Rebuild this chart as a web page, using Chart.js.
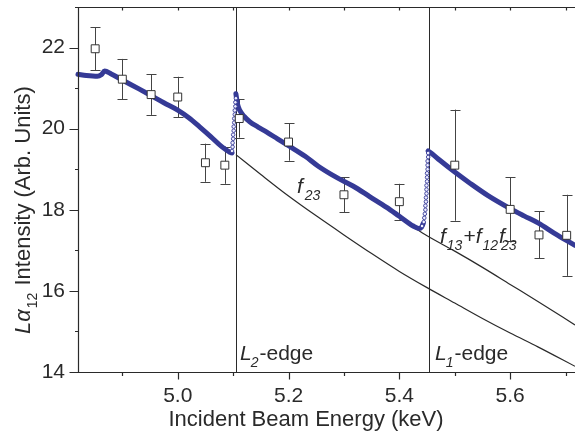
<!DOCTYPE html>
<html lang="en">
<head>
<meta charset="UTF-8">
<title>L-alpha intensity vs incident beam energy</title>
<script src="https://cdn.jsdelivr.net/npm/chart.js"></script>
<style>
  body { margin: 0; background: #fff; }
  #wrap { width: 575px; height: 433px; }
</style>
</head>
<body>
<div id="wrap"><canvas id="edgeChart" width="575" height="433"></canvas></div>
<script>
// measured points with error bars
const measX   = [4.851, 4.900, 4.952, 5.000, 5.050, 5.085, 5.111, 5.200, 5.300, 5.400, 5.500, 5.600, 5.652, 5.702];
const measY   = [21.97, 21.22, 20.84, 20.78, 19.16, 19.10, 20.25, 19.67, 18.37, 18.20, 19.10, 18.01, 17.38, 17.37];
const measErr = [0.53, 0.50, 0.50, 0.50, 0.47, 0.46, 0.47, 0.46, 0.43, 0.44, 1.37, 0.79, 0.58, 1.00];

// fitted curve (blue), split at the two edges
const fitAX = [4.820, 4.835, 4.855, 4.862, 4.868, 4.880, 4.900, 4.930, 4.950, 4.975, 5.000, 5.020, 5.040, 5.060, 5.080, 5.094, 5.098];
const fitAY = [21.34, 21.31, 21.29, 21.33, 21.42, 21.35, 21.20, 20.98, 20.83, 20.64, 20.46, 20.27, 20.04, 19.80, 19.55, 19.42, 19.40];
const fitBX = [5.105, 5.108, 5.112, 5.120, 5.130, 5.145, 5.160, 5.180, 5.200, 5.230, 5.253, 5.285, 5.317, 5.347, 5.377, 5.400, 5.425, 5.435, 5.440, 5.443];
const fitBY = [20.86, 20.60, 20.45, 20.30, 20.17, 20.04, 19.92, 19.75, 19.58, 19.32, 19.08, 18.81, 18.58, 18.32, 18.06, 17.84, 17.60, 17.54, 17.57, 17.66];
const fitCX = [5.452, 5.460, 5.473, 5.500, 5.528, 5.560, 5.600, 5.625, 5.651, 5.680, 5.717];
const fitCY = [19.45, 19.37, 19.22, 18.93, 18.65, 18.35, 18.03, 17.85, 17.67, 17.42, 17.12];

// open circles on the steep rise at each edge
const jumpL2X = [5.098, 5.099, 5.099, 5.100, 5.100, 5.101, 5.101, 5.102, 5.102, 5.103, 5.103, 5.104, 5.104, 5.105];
const jumpL2Y = [19.45, 19.55, 19.65, 19.75, 19.85, 19.95, 20.05, 20.15, 20.25, 20.35, 20.45, 20.55, 20.65, 20.75];
const jumpL1X = [5.441, 5.444, 5.445, 5.446, 5.447, 5.447, 5.448, 5.448, 5.449, 5.449, 5.449, 5.450, 5.450, 5.450, 5.451, 5.451, 5.451, 5.452, 5.452];
const jumpL1Y = [17.60, 17.70, 17.80, 17.90, 18.00, 18.10, 18.20, 18.30, 18.40, 18.50, 18.60, 18.70, 18.80, 18.90, 19.00, 19.10, 19.20, 19.30, 19.40];

// thin black curves
const f23X = [5.105, 5.150, 5.200, 5.250, 5.300, 5.350, 5.400, 5.450, 5.500, 5.550, 5.600, 5.650, 5.717];
const f23Y = [19.36, 18.87, 18.34, 17.85, 17.38, 16.92, 16.48, 16.08, 15.70, 15.32, 14.96, 14.62, 14.14];
const f13X = [5.420, 5.450, 5.500, 5.550, 5.600, 5.650, 5.717];
const f13Y = [17.62, 17.36, 16.98, 16.58, 16.16, 15.74, 15.16];

const edgeX = [5.105, 5.454];

// axes
const xMin = 4.82, xMax = 5.717, yMin = 14, yMax = 23;
const xTickVals = [5.0, 5.2, 5.4, 5.6];
const xTickLabels = ['5.0', '5.2', '5.4', '5.6'];
const xMinorVals = [4.9, 5.1, 5.3, 5.5, 5.7];
const yTickVals = [14, 16, 18, 20, 22];
const yTickLabels = ['14', '16', '18', '20', '22'];
const yMinorVals = [15, 17, 19, 21, 23];

const BLUE = '#353a96';
const INK = '#2a2a2a';
const FONT = '"Liberation Sans", Arial, sans-serif';

const pts = (xs, ys) => xs.map((v, i) => ({ x: v, y: ys[i] }));

function richText(ctx, parts, x, y, big) {
  parts.forEach(p => {
    const size = p.sub ? 14 : (big || 21);
    ctx.font = (p.it ? 'italic ' : '') + size + 'px ' + FONT;
    x += (p.dx || 0);
    ctx.fillText(p.t, x, y + (p.sub ? 7 : 0));
    x += ctx.measureText(p.t).width;
  });
}

// drop the half-label padding Chart.js reserves at the axis ends
function noPad(s) {
  s.paddingTop = 0; s.paddingBottom = 0; s.paddingLeft = 0; s.paddingRight = 0;
}

const overlay = {
  id: 'overlay',
  beforeDatasetsDraw(chart) {
    const { ctx, chartArea: a, scales: { x, y } } = chart;
    ctx.save();
    ctx.strokeStyle = INK;
    ctx.lineWidth = 1;
    // absorption edges
    edgeX.forEach(e => {
      const px = Math.round(x.getPixelForValue(e)) + 0.5;
      ctx.beginPath(); ctx.moveTo(px, a.top); ctx.lineTo(px, a.bottom); ctx.stroke();
    });
    // error bars
    ctx.strokeStyle = '#444';
    measX.forEach((v, i) => {
      const px = Math.round(x.getPixelForValue(v)) + 0.5;
      const top = y.getPixelForValue(measY[i] + measErr[i]);
      const bot = y.getPixelForValue(measY[i] - measErr[i]);
      ctx.beginPath();
      ctx.moveTo(px, top); ctx.lineTo(px, bot);
      ctx.moveTo(px - 5, Math.round(top) + 0.5); ctx.lineTo(px + 5, Math.round(top) + 0.5);
      ctx.moveTo(px - 5, Math.round(bot) + 0.5); ctx.lineTo(px + 5, Math.round(bot) + 0.5);
      ctx.stroke();
    });
    ctx.restore();
  },
  afterDraw(chart) {
    const { ctx, chartArea: a, scales: { x, y } } = chart;
    ctx.save();
    ctx.strokeStyle = INK;
    ctx.lineWidth = 1.2;
    const L = Math.round(a.left) + 0.5, B = Math.round(a.bottom) + 0.5, T = Math.round(a.top) + 0.5;
    ctx.beginPath();
    ctx.moveTo(a.right, T); ctx.lineTo(L, T); ctx.lineTo(L, B); ctx.lineTo(a.right, B);
    // bottom ticks (outward)
    xTickVals.forEach(v => { const p = Math.round(x.getPixelForValue(v)) + 0.5; ctx.moveTo(p, B); ctx.lineTo(p, B + 7); });
    xMinorVals.forEach(v => { const p = Math.round(x.getPixelForValue(v)) + 0.5; ctx.moveTo(p, B); ctx.lineTo(p, B + 3.5); });
    // top ticks (inward)
    xTickVals.concat(xMinorVals).forEach(v => { const p = Math.round(x.getPixelForValue(v)) + 0.5; ctx.moveTo(p, T); ctx.lineTo(p, T + 3); });
    // left ticks (outward)
    yTickVals.forEach(v => { const p = Math.round(y.getPixelForValue(v)) + 0.5; ctx.moveTo(L, p); ctx.lineTo(L - 9, p); });
    yMinorVals.forEach(v => { const p = Math.round(y.getPixelForValue(v)) + 0.5; ctx.moveTo(L, p); ctx.lineTo(L - 3.5, p); });
    ctx.stroke();

    // labels
    ctx.fillStyle = INK;
    ctx.textBaseline = 'alphabetic';
    ctx.textAlign = 'left';
    richText(ctx, [{ t: 'f', it: true }, { t: '23', it: true, sub: true, dx: 2 }], 297, 193);
    richText(ctx, [
      { t: 'f', it: true }, { t: '13', it: true, sub: true, dx: 1 },
      { t: '+', dx: 1 },
      { t: 'f', it: true }, { t: '12', it: true, sub: true, dx: 1 },
      { t: 'f', it: true, dx: 1 }, { t: '23', it: true, sub: true, dx: -4 }
    ], 440, 243);
    richText(ctx, [{ t: 'L', it: true }, { t: '2', it: true, sub: true, dx: -1 }, { t: '-edge', dx: 1 }], 240, 360);
    richText(ctx, [{ t: 'L', it: true }, { t: '1', it: true, sub: true, dx: -1 }, { t: '-edge', dx: 1 }], 435, 360);

    // axis titles
    ctx.font = '22px ' + FONT;
    ctx.textAlign = 'center';
    ctx.fillText('Incident Beam Energy (keV)', 306, 426);
    ctx.textAlign = 'left';
    ctx.translate(30, 334);
    ctx.rotate(-Math.PI / 2);
    richText(ctx, [{ t: 'L\u03b1', it: true }, { t: '12', sub: true, dx: 1 }, { t: ' Intensity (Arb. Units)', dx: 1 }], 0, 0, 22);
    ctx.restore();
  }
};

const ctx = document.getElementById('edgeChart').getContext('2d');
new Chart(ctx, {
  type: 'scatter',
  data: {
    datasets: [
      { data: pts(measX, measY), pointStyle: 'rect', pointRadius: 5.6, pointBorderWidth: 1,
        pointBackgroundColor: '#fff', pointBorderColor: '#333', showLine: false },
      { data: pts(jumpL2X, jumpL2Y), pointStyle: 'circle', pointRadius: 1.8, pointBorderWidth: 0.9,
        pointBackgroundColor: '#eef', pointBorderColor: BLUE, showLine: false },
      { data: pts(jumpL1X, jumpL1Y), pointStyle: 'circle', pointRadius: 1.8, pointBorderWidth: 0.9,
        pointBackgroundColor: '#eef', pointBorderColor: BLUE, showLine: false },
      { data: pts(fitAX, fitAY), showLine: true, borderColor: BLUE, borderWidth: 5, pointRadius: 0, cubicInterpolationMode: 'monotone', borderCapStyle: 'round', borderJoinStyle: 'round' },
      { data: pts(fitBX, fitBY), showLine: true, borderColor: BLUE, borderWidth: 5, pointRadius: 0, cubicInterpolationMode: 'monotone', borderCapStyle: 'round', borderJoinStyle: 'round' },
      { data: pts(fitCX, fitCY), showLine: true, borderColor: BLUE, borderWidth: 5, pointRadius: 0, cubicInterpolationMode: 'monotone', borderCapStyle: 'round', borderJoinStyle: 'round' },
      { data: pts(f23X, f23Y), showLine: true, borderColor: INK, borderWidth: 1.2, pointRadius: 0, cubicInterpolationMode: 'monotone' },
      { data: pts(f13X, f13Y), showLine: true, borderColor: INK, borderWidth: 1.2, pointRadius: 0, cubicInterpolationMode: 'monotone' }
    ]
  },
  options: {
    responsive: false,
    animation: false,
    events: [],
    clip: false,
    layout: { autoPadding: false, padding: { top: 7, right: 0, left: 0, bottom: 0 } },
    plugins: { legend: { display: false }, tooltip: { enabled: false } },
    scales: {
      x: {
        type: 'linear', min: xMin, max: xMax,
        afterBuildTicks: s => { s.ticks = xTickVals.map(v => ({ value: v })); },
        afterFit: s => { s.height = 61; noPad(s); },
        grid: { display: false, drawTicks: false },
        border: { display: false },
        ticks: { autoSkip: false, maxRotation: 0, padding: 12, color: INK,
                 font: { family: FONT, size: 21 }, callback: (v, i) => xTickLabels[i] }
      },
      y: {
        type: 'linear', min: yMin, max: yMax,
        afterBuildTicks: s => { s.ticks = yTickVals.map(v => ({ value: v })); },
        afterFit: s => { s.width = 78; noPad(s); },
        grid: { display: false, drawTicks: false },
        border: { display: false },
        ticks: { autoSkip: false, padding: 13, color: INK,
                 font: { family: FONT, size: 21 }, callback: (v, i) => yTickLabels[i] }
      }
    }
  },
  plugins: [overlay]
});
</script>
</body>
</html>
